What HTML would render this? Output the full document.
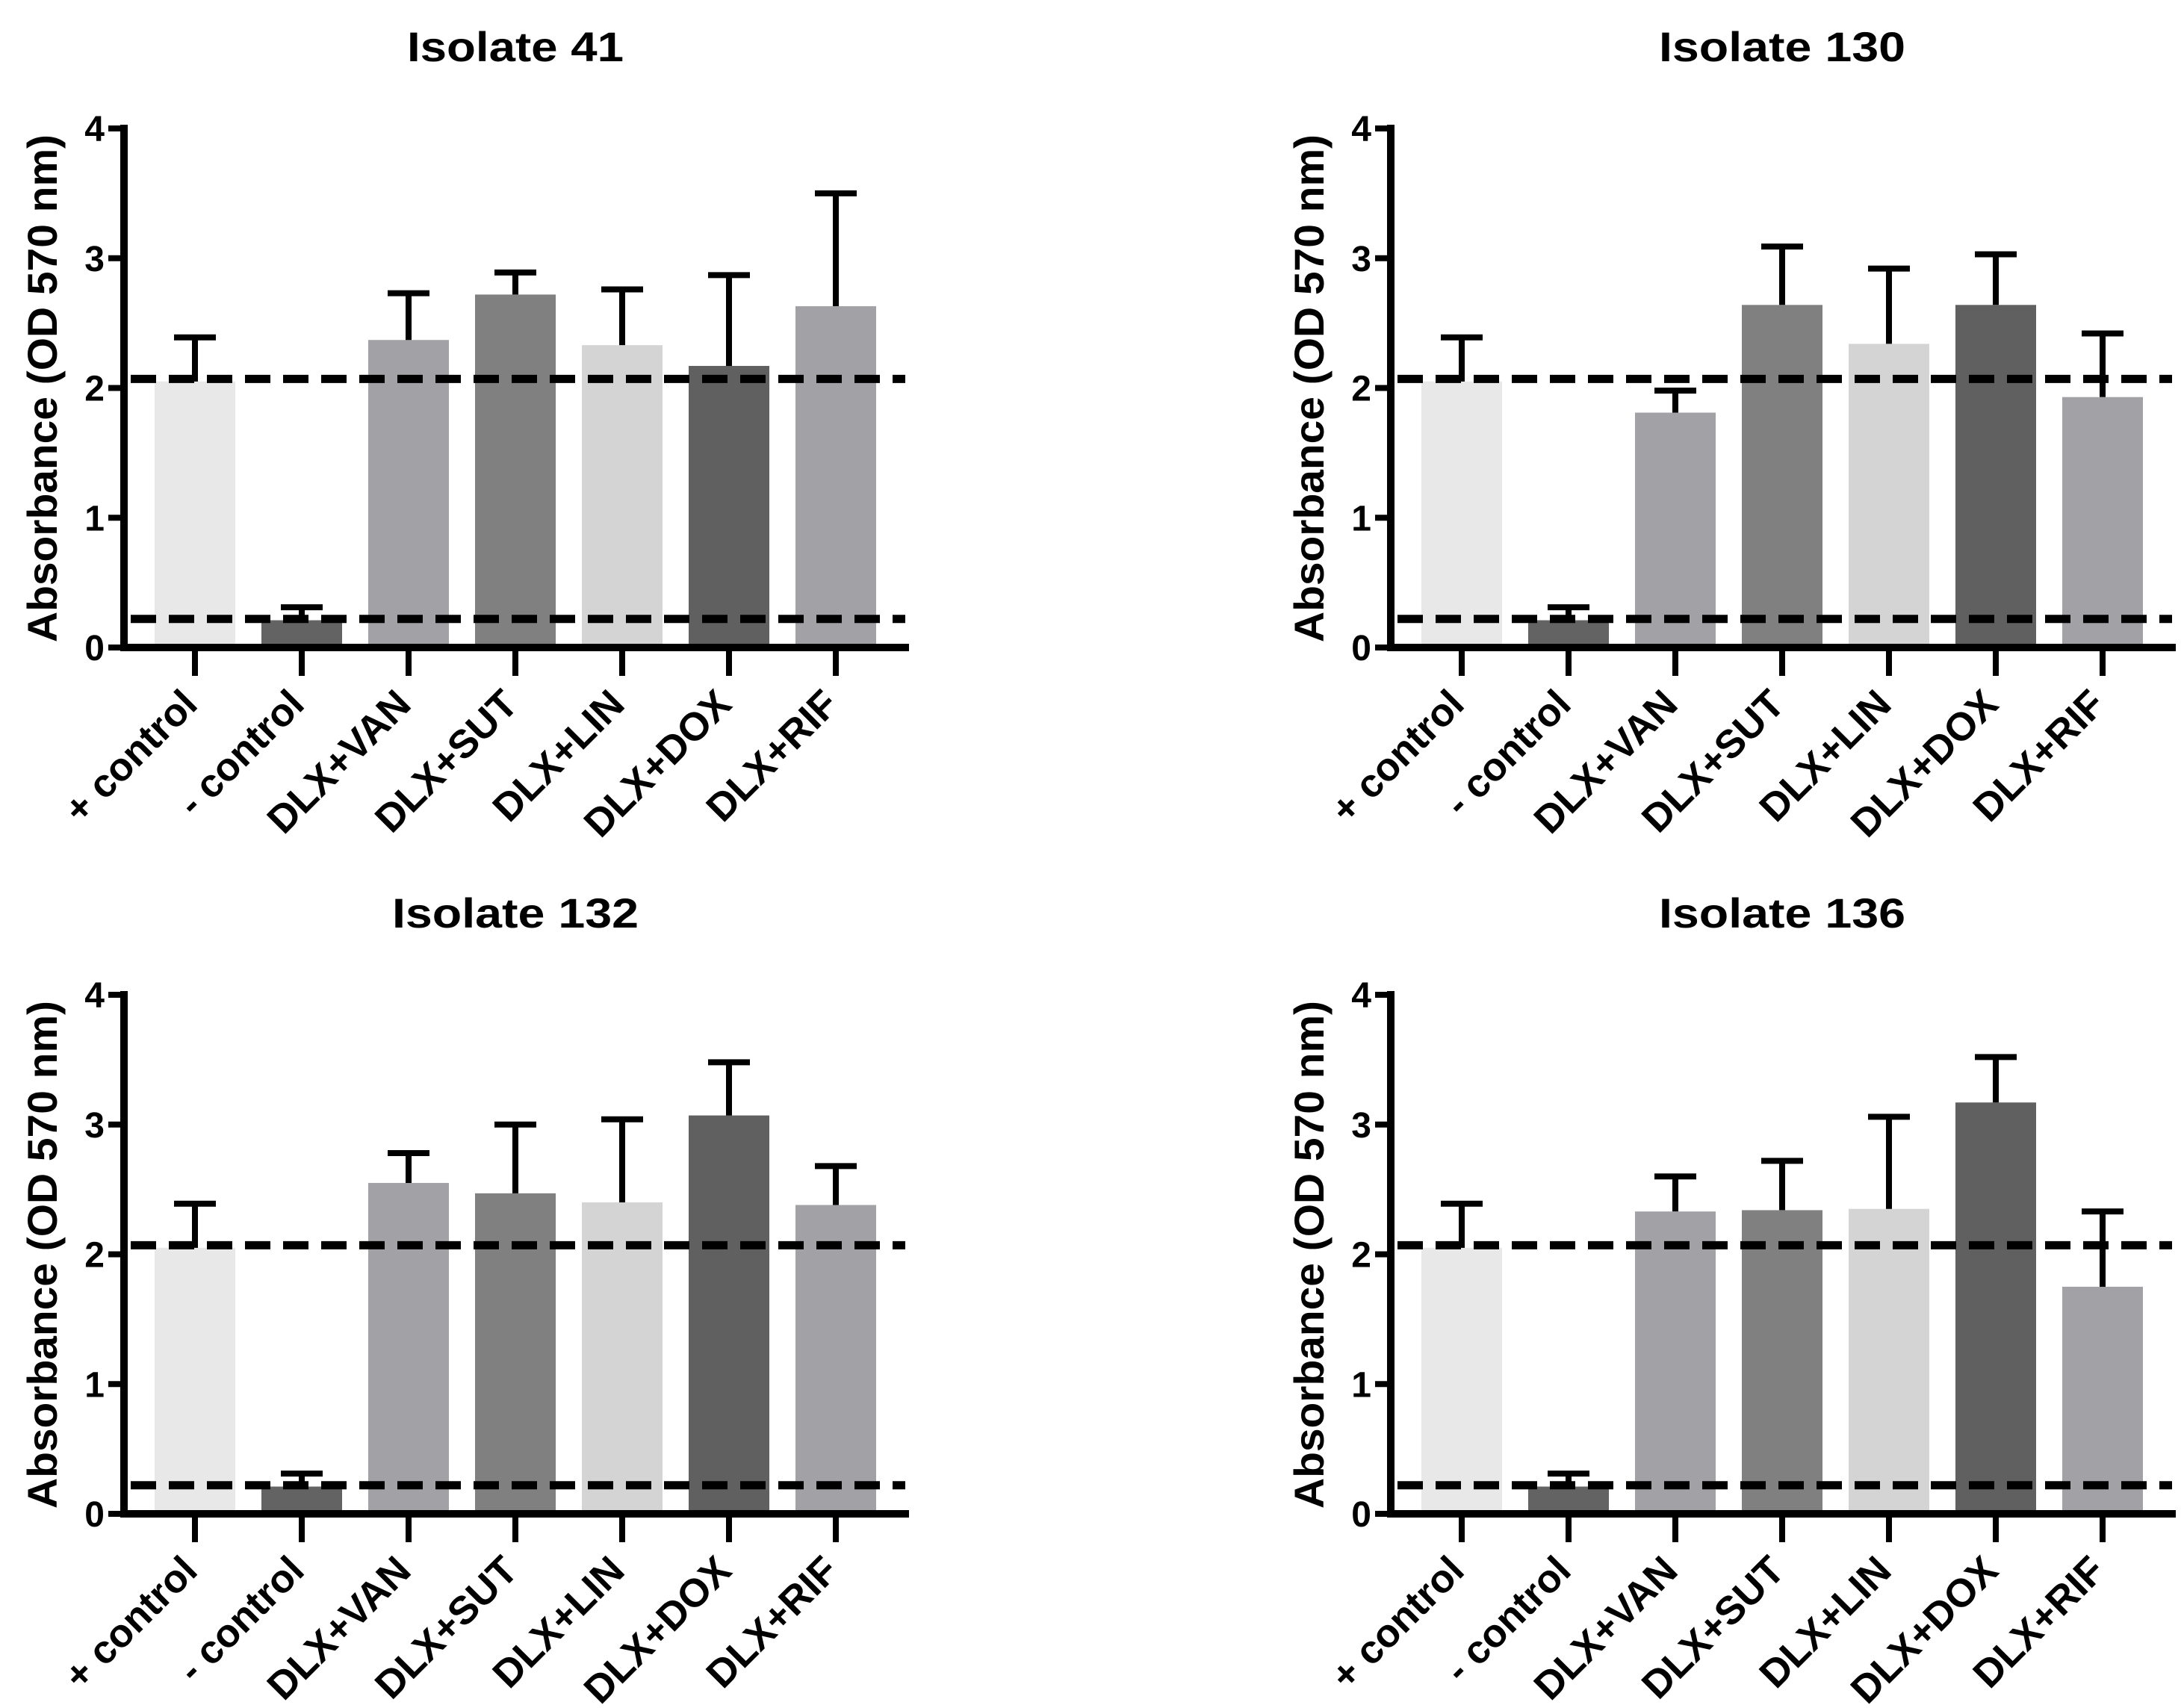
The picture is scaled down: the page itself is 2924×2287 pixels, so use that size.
<!DOCTYPE html>
<html><head><meta charset="utf-8"><style>
html,body{margin:0;padding:0;background:#fff;}
svg{display:block;font-family:"Liberation Sans",Arial,sans-serif;font-weight:bold;}
</style></head><body>
<svg id="chart" width="2924" height="2287" viewBox="0 0 2924 2287" xmlns="http://www.w3.org/2000/svg"></svg>
<script>
const categories = ["+ control","- control","DLX+VAN","DLX+SUT","DLX+LIN","DLX+DOX","DLX+RIF"];
const barColors = ["#e8e8e8","#636363","#a2a1a6","#808080","#d4d4d4","#606060","#a2a1a6"];
const yTicks = [0,1,2,3,4];
const titles = ["Isolate 41","Isolate 130","Isolate 132","Isolate 136"];
const means41  = [2.05,0.21,2.37,2.72,2.33,2.17,2.63];
const errTop41 = [2.39,0.31,2.73,2.89,2.76,2.87,3.50];
const means130  = [2.05,0.21,1.81,2.64,2.34,2.64,1.93];
const errTop130 = [2.39,0.31,1.98,3.09,2.92,3.03,2.42];
const means132  = [2.05,0.21,2.55,2.47,2.40,3.07,2.38];
const errTop132 = [2.39,0.31,2.78,3.00,3.04,3.48,2.68];
const means136  = [2.05,0.21,2.33,2.34,2.35,3.17,1.75];
const errTop136 = [2.39,0.31,2.60,2.72,3.06,3.52,2.33];
const refUpper = 2.07;
const refLower = 0.22;

const allMeans = [means41,means130,means132,means136];
const allErr = [errTop41,errTop130,errTop132,errTop136];
const offsets = [[0,0],[1696,0],[0,1160],[1696,1160]];
const NS = "http://www.w3.org/2000/svg";
const svg = document.getElementById('chart');
function mk(tag, attrs, parent){
  const e = document.createElementNS(NS, tag);
  for (const k in attrs) e.setAttribute(k, attrs[k]);
  parent.appendChild(e);
  return e;
}
titles.forEach((title, p) => {
  const [ox, oy] = offsets[p];
  const g = mk('g', {transform:`translate(${ox},${oy})`}, svg);
  
  
  const axX = 166, y0 = 867, yTop = 172, xEnd = 1217;
  const yScale = v => y0 - (v / 4) * (y0 - yTop);
  const x0 = 261, step = 143, bw = 108;
  const xScale = i => x0 + i * step;

  const t = mk('text', {x:690, y:82, 'font-size':56, 'text-anchor':'middle', fill:'#000', textLength: title.length > 10 ? 330 : 290, lengthAdjust:'spacingAndGlyphs'}, g);
  t.textContent = title;
  
  

  const yl = mk('text', {x:0, y:0, 'font-size':56, 'text-anchor':'middle', fill:'#000', transform:`translate(76,520) rotate(-90)`, textLength:680, lengthAdjust:'spacingAndGlyphs'}, g);
  yl.textContent = 'Absorbance (OD 570 nm)';
  
  

  allMeans[p].forEach((v, i) => {
    const cx = xScale(i);
    const r = mk('rect', {x:cx - bw/2, y:yScale(v), width:bw, height:y0 - yScale(v), fill:barColors[i]}, g);
    
    
    const e = allErr[p][i];
    const eg = mk('g', {stroke:'#000', 'stroke-width':8}, g);
    
    
    mk('line', {x1:cx, x2:cx, y1:yScale(v), y2:yScale(e)}, eg);
    mk('line', {x1:cx-28, x2:cx+28, y1:yScale(e), y2:yScale(e)}, eg);
  });

  [refUpper, refLower].forEach((rv, k) => {
    const l = mk('line', {x1:175, x2:1212, y1:yScale(rv), y2:yScale(rv), stroke:'#000', 'stroke-width':11, 'stroke-dasharray':'34 17'}, g);
    
    
  });

  const ya = mk('line', {x1:axX, x2:axX, y1:yTop - 5, y2:y0 + 5, stroke:'#000', 'stroke-width':10}, g);
  
  
  const xa = mk('line', {x1:axX - 5, x2:xEnd, y1:y0, y2:y0, stroke:'#000', 'stroke-width':10}, g);
  
  

  yTicks.forEach(v => {
    const y = yScale(v);
    mk('line', {x1:145, x2:axX, y1:y, y2:y, stroke:'#000', 'stroke-width':8}, g);
    const tl = mk('text', {x:140, y:y + 17, 'font-size':48, 'text-anchor':'end', fill:'#000'}, g);
    tl.textContent = v;
    
    
  });
  categories.forEach((c, i) => {
    const x = xScale(i);
    mk('line', {x1:x, x2:x, y1:y0, y2:905, stroke:'#000', 'stroke-width':8}, g);
    const tl = mk('text', {x:0, y:0, 'font-size':53, 'text-anchor':'end', fill:'#000', transform:`translate(${x + 6},${946}) rotate(-45)`}, g);
    tl.textContent = c;
    
    
  });
});
</script>
</body></html>
